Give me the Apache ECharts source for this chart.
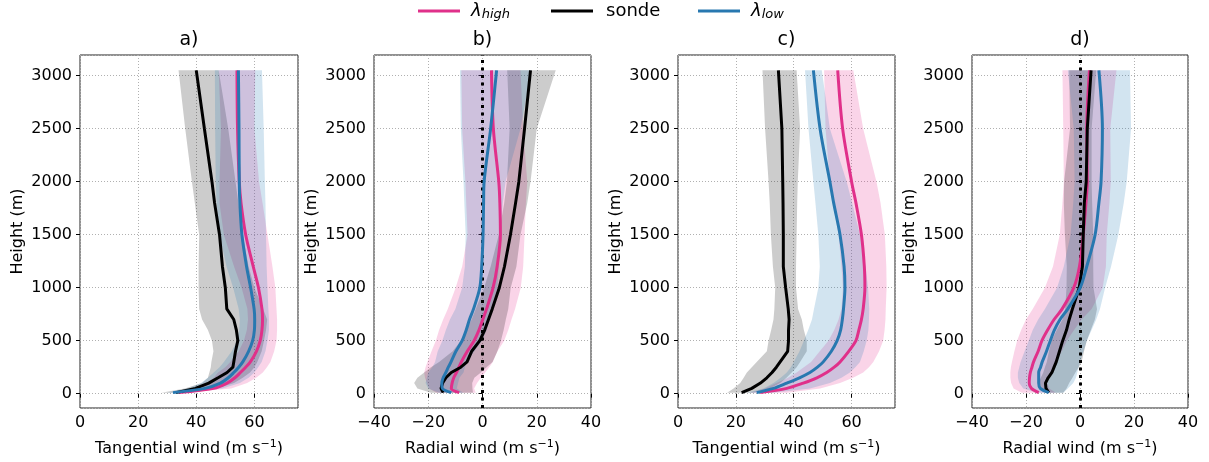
<!DOCTYPE html>
<html><head><meta charset="utf-8">
<script src="https://cdn.jsdelivr.net/npm/echarts@6/dist/echarts.min.js"></script>
<style>html,body{margin:0;padding:0;background:#fff}#c{width:1209px;height:462px}</style>
</head><body><div id="c"></div><script>
// ---- data ----
const heights = [10, 50, 100, 150, 200, 250, 300, 400, 500, 600, 700, 800, 1000, 1200, 1500, 1800, 2000, 2500, 3050];
const panelTitles = ['a)', 'b)', 'c)', 'd)'];
const xAxisTitles = ['Tangential wind', 'Radial wind', 'Tangential wind', 'Radial wind'];
const yTickValues = [0, 500, 1000, 1500, 2000, 2500, 3000];

// panel a (tangential)
const sondeA = [33, 39.7, 44.3, 47.5, 50.6, 52.6, 52.9, 53.5, 54.3, 53.8, 52.9, 50.5, 50, 49, 48, 46.3, 45.4, 42.8, 40];
const highA = [34, 46, 50.6, 53.3, 55.2, 57, 58.6, 60.7, 62, 62.6, 62.8, 62.6, 61.4, 59.6, 57, 55.4, 54.8, 54.2, 54];
const lowA = [32, 43, 48.3, 51, 52.9, 54.6, 56, 58, 59.4, 60, 60.1, 59.9, 58.7, 57.3, 55.7, 55, 54.8, 54.7, 54.5];
const sondeALo = [28, 36, 42, 44, 44.5, 45, 45.2, 45.9, 45.4, 44, 42, 41, 40.8, 40.8, 41, 39.5, 38.5, 36.2, 33.9];
const sondeAHi = [38, 47, 53, 56, 58.5, 60, 61, 62.5, 63.3, 64, 64.4, 63, 60, 58, 56, 54.5, 53.5, 51, 47.7];
const highALo = [32, 40, 43.7, 46, 47.5, 50, 51.7, 54.6, 56.4, 57.4, 57.8, 57.6, 55.6, 53, 49.5, 48, 48, 48.5, 47.7];
const highAHi = [36, 52, 57.5, 60.6, 62.9, 64.3, 65.5, 66.8, 67.6, 67.8, 67.8, 67.6, 67.2, 66.2, 64.5, 62.8, 61.6, 60, 60.3];
const lowALo = [30, 37, 41.6, 44, 46, 48, 49.5, 52.2, 54, 54.8, 55, 54.6, 52.7, 50.4, 48, 47, 46.7, 46.5, 46.4];
const lowAHi = [34, 49, 55, 58, 60, 61.3, 62.5, 63.8, 64.5, 65, 65, 64.8, 64.5, 64.2, 64, 63.8, 63.6, 63.2, 62.6];

// panel b (radial)
const sondeB = [-14.5, -15.3, -14.7, -13.5, -11.5, -8, -5.7, -4, -1, 0.8, 2.2, 3.6, 6.2, 8.1, 10.3, 12.2, 13.4, 15.5, 17.7];
const highB = [-8.6, -11.5, -11.2, -10.6, -9.6, -8.7, -7.8, -5.6, -3.1, -1.3, 0.1, 1.5, 3.9, 5.4, 6.6, 6.4, 6, 4, 3.3];
const lowB = [-11.5, -14.8, -15, -14.5, -13.5, -12.6, -11.6, -9.8, -7.5, -6, -4.8, -3.3, -1, -0.3, 0.2, 0.4, 0.6, 3, 5.2];
const sondeBLo = [-19, -24, -25.2, -24, -21.5, -19, -16, -11, -8, -6, -4, -2.5, 0.6, 3, 6, 8, 9, 10, 9.1];
const sondeBHi = [-3.5, -3.7, -3.8, -3, -0.6, 1.5, 3.7, 5.5, 6.8, 7.8, 8.6, 9.5, 10.4, 12.5, 14, 16.5, 17.7, 20, 27];
const highBLo = [-17, -19.7, -20.5, -21.2, -21.5, -21, -20.3, -18.8, -17.2, -16, -14.5, -12.8, -9.9, -7.5, -5.5, -6, -6.3, -7.5, -7.8];
const highBHi = [-2.5, -3.1, -2, -0.6, 1, 2.5, 3.8, 5.5, 8, 9.5, 10.7, 12, 14.1, 15, 15.5, 16, 16.5, 15, 14];
const lowBLo = [-16, -20, -21, -20.5, -20, -18.5, -17.5, -16.5, -14.8, -13.5, -12, -10, -7.5, -6.5, -6.2, -6.7, -7, -8, -8.3];
const lowBHi = [-7, -9.5, -9, -8.5, -7, -6.5, -5.7, -3, -0.2, 1.5, 2.4, 3.4, 5.5, 6, 6.6, 7.5, 8.5, 14, 18];

// panel c (tangential)
const sondeC = [22, 25.5, 28.5, 30.7, 32.5, 34, 35.3, 37.9, 38.2, 38.2, 38.4, 38.1, 37.2, 36.4, 36.4, 36.3, 36.2, 35.9, 34.7];
const highC = [28.4, 37.6, 43.3, 48, 51.4, 54, 56, 59, 61.5, 62.5, 63.4, 64, 64.6, 64.4, 63.4, 61.5, 60, 56.9, 55.2];
const lowC = [27.2, 33, 37.6, 42, 45.6, 48.2, 50.2, 53, 55, 56.2, 56.8, 57.2, 57.7, 57.4, 56, 53.8, 52.5, 49.1, 46.8];
const sondeCLo = [17, 19.2, 21.5, 22.7, 23.8, 25.5, 27.2, 30.7, 31.3, 32.2, 33, 33.3, 33.6, 32.8, 32.1, 31.7, 31.3, 30.1, 29.2];
const sondeCHi = [26, 31.8, 35.3, 37.5, 39.3, 41, 42.2, 44.5, 44.5, 43.5, 42.8, 41.5, 40.8, 40.8, 41, 41.2, 41.4, 42.2, 41];
const highCLo = [25, 30, 34, 38, 41, 43.5, 46, 49, 52, 54, 55.5, 56.5, 57, 56.5, 55.5, 53.5, 52.5, 51, 50.5];
const highCHi = [37.6, 49.1, 56, 60.5, 64, 66, 67.5, 69.5, 70.9, 71.4, 71.7, 71.8, 72.1, 72, 71.5, 70, 68.6, 64, 60.6];
const lowCLo = [23.8, 29.5, 33, 35.5, 37.6, 39, 40, 42, 43.5, 45, 46.3, 47, 48.5, 49, 48.5, 47.5, 46.8, 45.1, 43.9];
const lowCHi = [33, 45.6, 52.5, 56.5, 59.4, 61.3, 62.9, 64.2, 65.2, 65.8, 66, 66.1, 65.7, 64.8, 62.9, 60.2, 58.3, 52.5, 49.7];

// panel d (radial)
const sondeD = [-11.6, -12.6, -12.8, -11.8, -10.4, -9.6, -8.8, -7.6, -6.4, -5, -4, -2.8, -0.3, 0.9, 1.2, 1.6, 2.3, 2.7, 4.1];
const highD = [-15.3, -18, -18.8, -18.7, -18.4, -17.8, -17.2, -15.5, -14.1, -12, -9.6, -6.6, -2.3, -0.2, 1.2, 2.2, 2.7, 2.5, 3.5];
const lowD = [-11.6, -14.7, -15.3, -15.3, -15.3, -14.6, -14, -12.4, -11, -9.5, -7.4, -4.5, 0.1, 2.5, 5.6, 7, 7.8, 8.3, 7];
const sondeDLo = [-12.3, -14.5, -15.4, -14.5, -13.6, -13, -12.3, -11.5, -10.5, -8.6, -6.5, -5.5, -5, -4.9, -5.6, -6, -5.9, -3.7, -4];
const sondeDHi = [-6.2, -5, -4, -2.8, -1.7, -0.5, 0.6, 1.5, 2.5, 4, 5.5, 6.3, 5, 4.9, 4.9, 4.5, 4.3, 4.3, 6];
const highDLo = [-21.5, -24.6, -25.5, -25.8, -25.8, -25.6, -25.2, -24.3, -23.3, -21.8, -20, -17.5, -13, -10, -7.5, -6.5, -6, -6.2, -6.5];
const highDHi = [-9, -11.4, -12.1, -11.6, -11, -10, -9.2, -6.7, -4.9, -2.2, 0.6, 4.3, 8.4, 9.6, 9.9, 10.9, 11.4, 11.2, 13.5];
const lowDLo = [-16, -21, -22.5, -23, -23, -22.5, -22, -20.5, -19, -17.5, -15.5, -13, -8.5, -6, -3.5, -2.5, -2, -2.3, -4.5];
const lowDHi = [-6.2, -4.5, -2.5, -1.5, -1, -0.5, 0, 1.3, 2.5, 4.3, 6, 7.4, 9.3, 11.5, 14.2, 16.2, 17.3, 18.9, 18.5];

// ---- styling / layout ----
const PINK = '#e0308a', BLUE = '#2878b0', BLACK = '#000000';
const PINK_F = 'rgba(231,41,138,0.2)', BLUE_F = 'rgba(31,119,180,0.2)', GRAY_F = 'rgba(0,0,0,0.2)';
const FONT = 'DejaVu Sans';
const grids = [
  {left: 80, top: 55, width: 218, height: 354},
  {left: 374, top: 55, width: 217, height: 354},
  {left: 678, top: 55, width: 217, height: 354},
  {left: 972, top: 55, width: 216, height: 354}
];
const xRanges = [[0, 75], [-40, 40], [0, 75], [-40, 40]];

const panels = [
  {sonde: sondeA, high: highA, low: lowA, sLo: sondeALo, sHi: sondeAHi, hLo: highALo, hHi: highAHi, lLo: lowALo, lHi: lowAHi},
  {sonde: sondeB, high: highB, low: lowB, sLo: sondeBLo, sHi: sondeBHi, hLo: highBLo, hHi: highBHi, lLo: lowBLo, lHi: lowBHi},
  {sonde: sondeC, high: highC, low: lowC, sLo: sondeCLo, sHi: sondeCHi, hLo: highCLo, hHi: highCHi, lLo: lowCLo, lHi: lowCHi},
  {sonde: sondeD, high: highD, low: lowD, sLo: sondeDLo, sHi: sondeDHi, hLo: highDLo, hHi: highDHi, lLo: lowDLo, lHi: lowDHi}
];

function band(idx, lo, hi, fill, z) {
  return {
    type: 'custom', xAxisIndex: idx, yAxisIndex: idx, z: z, silent: true, animation: false,
    data: [[lo[0], heights[0]]],
    renderItem: function (params, api) {
      const pts = [];
      for (let i = 0; i < heights.length; i++) pts.push(api.coord([hi[i], heights[i]]));
      for (let i = heights.length - 1; i >= 0; i--) pts.push(api.coord([lo[i], heights[i]]));
      return {type: 'polygon', shape: {points: pts}, style: {fill: fill}};
    }
  };
}
function line(name, idx, xs, color, width, smooth, z) {
  return {
    type: 'line', name: name, xAxisIndex: idx, yAxisIndex: idx, z: z, silent: true, animation: false,
    data: xs.map((v, i) => [v, heights[i]]), symbol: 'none', showSymbol: false, smooth: smooth,
    lineStyle: {color: color, width: width}, itemStyle: {color: color}
  };
}

const series = [];
panels.forEach((p, i) => {
  series.push(band(i, p.hLo, p.hHi, PINK_F, 1));
  series.push(line('high', i, p.high, PINK, 3, 0.3, 5));
  series.push(band(i, p.sLo, p.sHi, GRAY_F, 2));
  series.push(line('sonde', i, p.sonde, BLACK, 3, false, 6));
  series.push(band(i, p.lLo, p.lHi, BLUE_F, 3));
  series.push(line('low', i, p.low, BLUE, 3, 0.3, 7));
  if (i === 1 || i === 3) {
    series.push({
      type: 'line', xAxisIndex: i, yAxisIndex: i, data: [], silent: true, animation: false, z: 8,
      markLine: {silent: true, symbol: 'none', label: {show: false},
        lineStyle: {color: '#000', width: 3, type: [3, 4.5]},
        data: [{xAxis: 0}]}
    });
  }
});

const T16 = {fontFamily: FONT, fontSize: 16, color: '#000'};
const fmtNum = v => (v < 0 ? '−' + Math.abs(v) : String(v));

const xAxes = grids.map((g, i) => ({
  type: 'value', gridIndex: i, min: xRanges[i][0], max: xRanges[i][1], interval: 20,
  name: '{n|' + xAxisTitles[i] + ' (m s}{s|−1}{n|)}', nameLocation: 'middle', nameGap: 31,
  nameTextStyle: {fontSize: 16, fontFamily: FONT, rich: {n: T16, s: {fontFamily: FONT, fontSize: 11, color: '#000', padding: [0, 0, 9, 0]}}},
  axisLine: {show: false},
  axisTick: {show: true, length: 4, lineStyle: {color: '#000'}},
  axisLabel: {fontFamily: FONT, fontSize: 16, color: '#000', margin: 7, showMaxLabel: xRanges[i][1] % 20 === 0,
    formatter: v => '{t|' + fmtNum(v) + '}', rich: {t: T16}},
  splitLine: {show: true, lineStyle: {color: '#b0b0b0', type: [1, 2], width: 1}}
}));
const yAxes = grids.map((g, i) => ({
  type: 'value', gridIndex: i, min: -135, max: 3195, splitNumber: 6,
  name: '{t|Height (m)}', nameLocation: 'middle', nameGap: 54, nameRotate: 90,
  nameTextStyle: {fontFamily: FONT, fontSize: 16, color: '#000', rich: {t: T16}},
  axisLine: {show: false},
  axisTick: {show: true, length: 4, lineStyle: {color: '#000'}},
  axisLabel: {fontFamily: FONT, fontSize: 16, color: '#000', margin: 8, showMinLabel: false, showMaxLabel: false,
    formatter: v => (yTickValues.indexOf(v) >= 0 ? '{t|' + v + '}' : ''), rich: {t: T16}},
  splitLine: {show: true, lineStyle: {color: '#b0b0b0', type: [1, 2], width: 1}}
}));

const legendRich = {
  l: {fontFamily: FONT, fontSize: 18, fontStyle: 'italic', color: '#000', padding: [0, 0, 0, 6]},
  s: {fontFamily: FONT, fontSize: 13, fontStyle: 'italic', color: '#000', padding: [7, 0, 0, 0]},
  t: {fontFamily: FONT, fontSize: 18, color: '#000', padding: [0, 0, 0, 8]}
};
const legendFmt = name => name === 'high' ? '{l|λ}{s|high}' : name === 'low' ? '{l|λ}{s|low}' : '{t|sonde}';
const legendPos = [['high', 418], ['sonde', 551], ['low', 698]];
const legends = legendPos.map(([nm, x]) => ({
  data: [nm], left: x, top: 2, padding: 0, itemWidth: 42, itemHeight: 3, icon: 'rect',
  selectedMode: false, formatter: legendFmt, textStyle: {rich: legendRich}
}));

const option = {
  animation: false,
  backgroundColor: '#fff',
  textStyle: {fontFamily: FONT, fontSize: 16},
  title: grids.map((g, i) => ({
    text: '{t|' + panelTitles[i] + '}', left: g.left + g.width / 2, top: 31, textAlign: 'center', padding: 0,
    textStyle: {fontFamily: FONT, fontSize: 19, fontWeight: 'normal', color: '#000',
      rich: {t: {fontFamily: FONT, fontSize: 19, color: '#000'}}}
  })),
  legend: legends,
  grid: grids.map(g => Object.assign({show: true, borderColor: '#222', borderWidth: 1, backgroundColor: 'transparent'}, g)),
  xAxis: xAxes,
  yAxis: yAxes,
  series: series
};
const chart = echarts.init(document.getElementById('c'), null, {renderer: 'canvas'});
chart.setOption(option);
</script></body></html>
